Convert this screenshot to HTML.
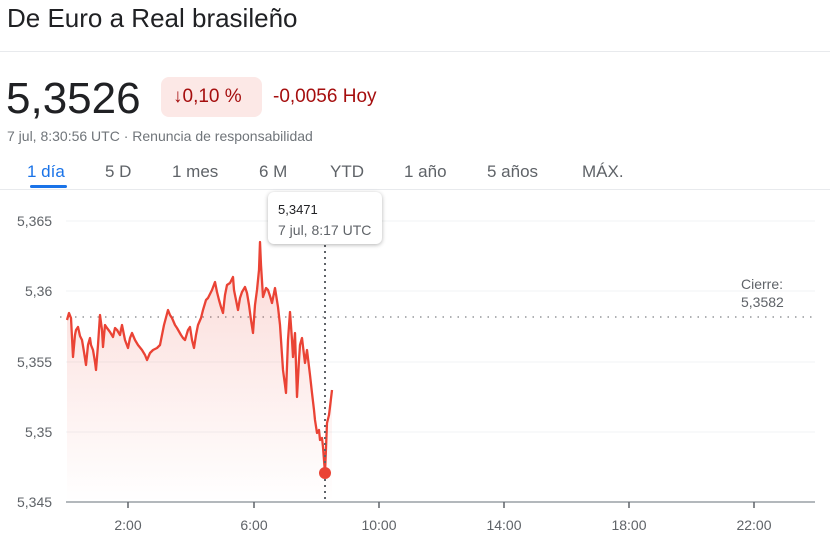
<!DOCTYPE html>
<html><head><meta charset="utf-8"><style>
body{margin:0;width:830px;height:549px;background:#fff;font-family:"Liberation Sans",Arial,sans-serif;overflow:hidden;position:relative}
.a{position:absolute;white-space:nowrap}
</style></head><body>
<div class="a" style="left:7px;top:3px;font-size:26px;color:#202124">De Euro a Real brasileño</div>
<div class="a" style="left:0;top:51px;width:830px;height:1px;background:#e8eaed"></div>
<div class="a" style="left:6px;top:74px;font-size:44px;color:#202124">5,3526</div>
<div class="a" style="left:161px;top:77px;width:101px;height:40px;background:#fce8e6;border-radius:8px"></div>
<div class="a" style="left:173px;top:86px;font-size:19px;color:#a50e0e">↓0,10 %</div>
<div class="a" style="left:273px;top:86px;font-size:19px;color:#a50e0e">-0,0056 Hoy</div>
<div class="a" style="left:7px;top:128px;font-size:14px;color:#70757a">7 jul, 8:30:56 UTC · Renuncia de responsabilidad</div>
<div class="a" style="left:27px;top:162px;font-size:17px;color:#1a73e8">1 día</div>
<div class="a" style="left:30px;top:185px;width:37px;height:3px;background:#1a73e8;border-radius:2px"></div>
<div class="a" style="left:105px;top:162px;font-size:17px;color:#5f6368">5 D</div>
<div class="a" style="left:172px;top:162px;font-size:17px;color:#5f6368">1 mes</div>
<div class="a" style="left:259px;top:162px;font-size:17px;color:#5f6368">6 M</div>
<div class="a" style="left:330px;top:162px;font-size:17px;color:#5f6368">YTD</div>
<div class="a" style="left:404px;top:162px;font-size:17px;color:#5f6368">1 año</div>
<div class="a" style="left:487px;top:162px;font-size:17px;color:#5f6368">5 años</div>
<div class="a" style="left:582px;top:162px;font-size:17px;color:#5f6368">MÁX.</div>
<div class="a" style="left:0;top:189px;width:830px;height:1px;background:#e8eaed"></div>
<svg class="a" style="left:0;top:0" width="830" height="549">
<defs><linearGradient id="g" x1="0" y1="0" x2="0" y2="1"><stop offset="0" stop-color="#ea4335" stop-opacity=".2"/><stop offset="1" stop-color="#ea4335" stop-opacity="0"/></linearGradient></defs>
<g stroke="#f1f3f4" stroke-width="1">
<line x1="66" y1="221" x2="815" y2="221"/><line x1="66" y1="291" x2="815" y2="291"/><line x1="66" y1="362" x2="815" y2="362"/><line x1="66" y1="432" x2="815" y2="432"/>
</g>
<line x1="66" y1="502" x2="815" y2="502" stroke="#9aa0a6" stroke-width="1.5"/>
<g stroke="#5f6368" stroke-width="1.5"><line x1="128" y1="502" x2="128" y2="508"/><line x1="254" y1="502" x2="254" y2="508"/><line x1="379" y1="502" x2="379" y2="508"/><line x1="504" y1="502" x2="504" y2="508"/><line x1="629" y1="502" x2="629" y2="508"/><line x1="754" y1="502" x2="754" y2="508"/></g>
<g font-size="14" fill="#5f6368" font-family="Liberation Sans,sans-serif">
<text x="17" y="226">5,365</text><text x="25" y="296">5,36</text><text x="17" y="367">5,355</text><text x="25" y="437">5,35</text><text x="17" y="507">5,345</text>
<text x="128" y="530" text-anchor="middle">2:00</text><text x="254" y="530" text-anchor="middle">6:00</text><text x="379" y="530" text-anchor="middle">10:00</text><text x="504" y="530" text-anchor="middle">14:00</text><text x="629" y="530" text-anchor="middle">18:00</text><text x="754" y="530" text-anchor="middle">22:00</text>
<text x="741" y="289">Cierre:</text><text x="741" y="307">5,3582</text>
</g>
<line x1="60" y1="317" x2="815" y2="317" stroke="#5f6368" stroke-dasharray="1.5,6"/>
<polygon fill="url(#g)" points="67,320 69,313 73,357 76,330 78,327 80,336 82,340 84,352 86,365 88,345 90,338 93,350 96,370 98,345 100,315 103,347 105,325 107,328 110,332 113,337 117,330 122,325 125,340 128,348 130,338 132,333 135,340 138,345 142,350 147,360 150,353 153,350 157,348 160,345 164,325 168,310 172,318 177,328 181,335 185,340 188,330 190,327 194,348 198,325 203,310 206,300 208,298 212,290 215,282 219,300 223,313 225,295 227,285 230,283 233,277 236,300 238,310 242,292 245,287 249,305 253,333 255,305 257,290 260,242 263,297 266,288 268,290 272,303 275,288 278,307 281,340 283,370 286,393 288,340 290,312 293,357 295,333 297,397 300,345 302,338 305,363 307,350 310,375 312,393 315,420 317,433 320,440 323,447 325,473 327,423 330,407 332,390 332,502 67,502"/>
<polyline fill="none" stroke="#ea4335" stroke-width="2.3" stroke-linejoin="round" points="67,320 69,313 71,318 73,357 75,335 76,330 78,327 80,336 82,340 84,352 86,365 88,345 90,338 91,345 93,350 95,362 96,370 98,345 100,315 102,330 103,347 105,325 107,328 110,332 113,337 115,328 117,330 120,335 122,325 125,340 128,348 130,338 132,333 135,340 138,345 142,350 145,355 147,360 150,353 153,350 157,348 160,345 164,325 168,310 170,315 172,318 175,325 177,328 181,335 183,338 185,340 188,330 190,327 192,340 194,348 196,335 198,325 201,318 203,310 206,300 208,298 210,294 212,290 215,282 217,292 219,300 221,307 223,313 225,295 227,285 230,283 233,277 234,290 236,300 238,310 240,298 242,292 245,287 247,293 249,305 251,320 253,333 255,305 257,290 259,270 260,242 261,265 263,297 266,288 268,290 270,296 272,303 275,288 278,307 280,325 281,340 283,370 285,385 286,393 288,340 290,312 292,340 293,357 295,333 297,397 299,360 300,345 302,338 304,355 305,363 307,350 310,375 312,393 314,410 315,420 317,433 319,430 320,440 322,438 323,447 325,473 327,423 329,415 330,407 332,390"/>
<line x1="325" y1="215" x2="325" y2="502" stroke="#5f6368" stroke-width="2" stroke-dasharray="2,4"/>
<circle cx="325" cy="473" r="6" fill="#ea4335"/>
</svg>
<div class="a" style="left:268px;top:192px;width:114px;height:52px;background:#fff;border-radius:6px;box-shadow:0 1px 4px rgba(0,0,0,.3)"></div>
<div class="a" style="left:278px;top:202px;font-size:13px;color:#202124">5,3471</div>
<div class="a" style="left:278px;top:222px;font-size:14px;color:#5f6368">7 jul, 8:17 UTC</div>
</body></html>
